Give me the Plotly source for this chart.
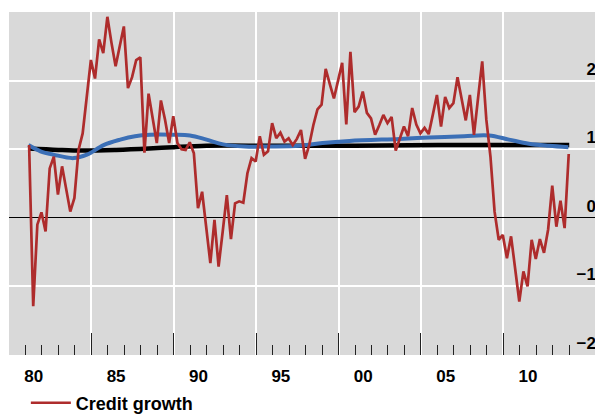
import plotly.graph_objects as go

# ---- data ----
credit_growth = [
    1.06, -1.29, -0.10, 0.08, -0.20, 0.72, 0.89, 0.34, 0.75, 0.42,
    0.09, 0.29, 0.99, 1.23, 1.80, 2.30, 2.03, 2.60, 2.40, 2.93,
    2.55, 2.21, 2.50, 2.79, 1.89, 2.05, 2.30, 2.34, 0.95, 1.81,
    1.45, 1.09, 1.71, 1.43, 1.09, 1.48, 1.09, 1.00, 0.99, 1.10,
    0.94, 0.14, 0.38, -0.15, -0.66, -0.03, -0.71, -0.20, 0.33, -0.31,
    0.21, 0.24, 0.22, 0.65, 0.87, 0.82, 1.19, 0.92, 0.97, 1.38,
    1.16, 1.24, 1.11, 1.16, 1.06, 1.15, 1.28, 0.86, 1.06, 1.35,
    1.58, 1.65, 2.17, 1.95, 1.74, 2.00, 2.26, 1.36, 2.42, 1.54,
    1.62, 1.84, 1.53, 1.45, 1.21, 1.35, 1.50, 1.38, 1.47, 0.98,
    1.16, 1.33, 1.19, 1.60, 1.36, 1.23, 1.31, 1.22, 1.50, 1.79,
    1.33, 1.76, 1.60, 1.67, 2.05, 1.75, 1.42, 1.79, 1.21, 1.75,
    2.28, 1.43, 0.89, 0.09, -0.32, -0.25, -0.59, -0.27, -0.75, -1.22,
    -0.78, -1.00, -0.32, -0.60, -0.31, -0.51, -0.17, 0.47, -0.13, 0.25,
    -0.15, 0.93,
]
start_year = 1980.22
quarter_step = 0.25
credit_x = [start_year + quarter_step * i for i in range(len(credit_growth))]

trend_x = [1980.2, 1982.0, 1983.5, 1985.5, 1987.5, 1989.0, 1991.0, 1995.0, 2000.0, 2005.0, 2013.0]
trend_y = [1.01, 0.99, 0.98, 0.99, 1.01, 1.03, 1.05, 1.05, 1.05, 1.06, 1.06]

smooth_x = [1980.18, 1980.91, 1981.71, 1982.92, 1983.73, 1984.74, 1985.75, 1986.65,
            1987.56, 1988.97, 1989.98, 1990.99, 1992.0, 1993.31, 1994.82, 1996.64,
            1998.03, 1999.66, 2002.69, 2004.5, 2006.62, 2008.13, 2009.34, 2010.55,
            2011.76, 2012.95]
smooth_y = [1.06, 0.97, 0.92, 0.87, 0.92, 1.06, 1.14, 1.19,
            1.21, 1.21, 1.20, 1.14, 1.07, 1.04, 1.04, 1.05,
            1.09, 1.12, 1.15, 1.17, 1.19, 1.20, 1.14, 1.08,
            1.05, 1.03]

year_labels = ['80', '85', '90', '95', '00', '05', '10']
label_pos = [1980.5, 1985.5, 1990.5, 1995.5, 2000.5, 2005.5, 2010.5]
major_ticks = [1984, 1989, 1994, 1999, 2004, 2009]
minor_ticks = list(range(1980, 2014))
y_ticks = [2, 1, 0, -1, -2]
y_ticktext = ['2', '1', '0', '\u22121', '\u22122']

RED = '#AE2C2C'
BLUE = '#3B6FB6'
GREY = '#D9D9D9'
FONT = 'Liberation Sans, Arial, sans-serif'

fig = go.Figure()
fig.add_trace(go.Scatter(x=trend_x, y=trend_y, mode='lines', name='Trend',
                         line=dict(color='black', width=4.5, shape='spline'),
                         showlegend=False))
fig.add_trace(go.Scatter(x=smooth_x, y=smooth_y, mode='lines', name='Smoothed',
                         line=dict(color=BLUE, width=4, shape='spline'),
                         showlegend=False))
fig.add_trace(go.Scatter(x=credit_x, y=credit_growth, mode='lines', name='Credit growth',
                         line=dict(color=RED, width=2.7)))
# empty trace to carry the label axis
fig.add_trace(go.Scatter(x=[], y=[], xaxis='x2', yaxis='y', showlegend=False,
                         hoverinfo='skip'))

x_range = [1979.0, 2015.05]
fig.update_layout(
    width=595, height=406,
    margin=dict(l=1, r=0, t=4, b=59, autoexpand=False),
    paper_bgcolor='white', plot_bgcolor=GREY,
    font=dict(family=FONT, color='black'),
    xaxis=dict(range=x_range, tickmode='array', tickvals=major_ticks,
               ticks='inside', ticklen=22, tickwidth=1, tickcolor='#222',
               showticklabels=False, showgrid=True, gridcolor='white', gridwidth=1.5,
               zeroline=False, showline=False, automargin=False,
               minor=dict(tickmode='array', tickvals=minor_ticks, ticks='inside',
                          ticklen=10, tickwidth=1, tickcolor='#222', showgrid=False)),
    xaxis2=dict(range=x_range, overlaying='x', side='bottom', anchor='y',
                tickmode='array', tickvals=label_pos, ticktext=year_labels,
                ticks='', showgrid=False, zeroline=False, showline=False,
                automargin=False,
                tickfont=dict(family=FONT, size=17, color='black', weight='bold'),
                ticklabelstandoff=9),
    yaxis=dict(range=[-2.0, 3.0], side='right', tickmode='array', tickvals=y_ticks,
               ticktext=y_ticktext, ticks='', ticklabelposition='inside',
               ticklabelshift=-12, ticklabelstandoff=4, automargin=False,
               tickfont=dict(family=FONT, size=17, color='black', weight='bold'),
               showgrid=True, gridcolor='white', gridwidth=1.5,
               zeroline=True, zerolinecolor='black', zerolinewidth=1, showline=False),
    legend=dict(orientation='h', xref='container', yref='container',
                x=0.03, y=0.027, xanchor='left', yanchor='middle',
                itemwidth=40, bgcolor='rgba(0,0,0,0)',
                font=dict(family=FONT, size=18, color='black', weight='bold')),
)

fig.write_html('out.html')
